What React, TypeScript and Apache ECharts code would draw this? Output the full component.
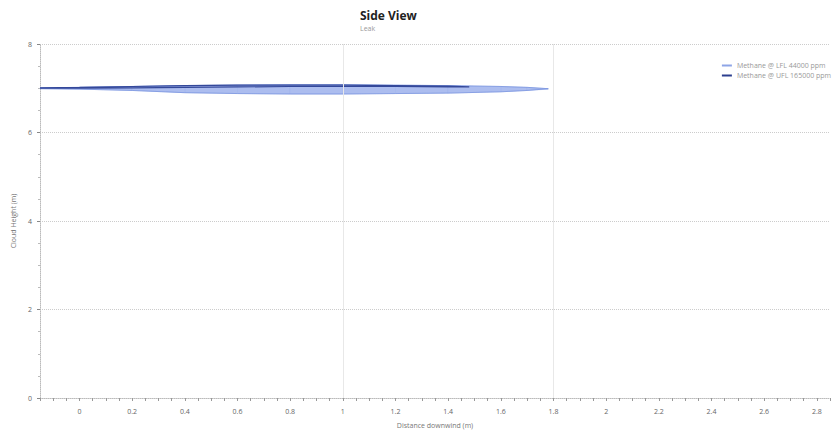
import React, { useEffect, useRef } from "react";
import * as echarts from "echarts";

// Light cloud (lower concentration) outline: x, top edge, bottom edge
const cloudX = [-0.15, 0.0, 0.2, 0.4, 0.6, 0.8, 1.0, 1.2, 1.4, 1.6, 1.7, 1.78];
const cloudTop = [7.01, 7.02, 7.04, 7.06, 7.07, 7.08, 7.08, 7.07, 7.06, 7.04, 7.02, 6.99];
const cloudBottom = [6.99, 6.98, 6.95, 6.9, 6.88, 6.87, 6.87, 6.88, 6.89, 6.92, 6.95, 6.98];

// Dense cloud (higher concentration) outline
const coreX = [-0.15, 0.0, 0.2, 0.4, 0.6, 0.8, 1.0, 1.2, 1.4, 1.48];
const coreTop = [7.01, 7.02, 7.04, 7.06, 7.07, 7.07, 7.07, 7.06, 7.05, 7.03];
const coreBottom = [7.0, 7.0, 7.01, 7.02, 7.03, 7.04, 7.04, 7.04, 7.03, 7.03];

const seriesNames = ["Methane @ LFL 44000 ppm", "Methane @ UFL 165000 ppm"];
const xGridValues = [1.0, 1.8];

export default function App() {
  const ref = useRef<HTMLDivElement>(null);
  useEffect(() => {
    document.body.style.margin = "0";
    if (!ref.current) return;
    const chart = echarts.init(ref.current, null, { renderer: "svg" });
    const font = "'Open Sans', 'Liberation Sans', sans-serif";

    // segments of the light band: [x0, top0, bottom0, x1, top1, bottom1]
    const bandSegs = cloudX.slice(0, -1).map((x, i) => [
      x, cloudTop[i], cloudBottom[i], cloudX[i + 1], cloudTop[i + 1], cloudBottom[i + 1],
    ]);
    const coreLine = [
      ...coreX.map((x, i) => [x, coreTop[i]]),
      ...coreX.slice().reverse().map((x, i) => [x, coreBottom[coreX.length - 1 - i]]),
    ];
    const lightEdge = [
      ...cloudX.map((x, i) => [x, cloudTop[i]]),
      ...cloudX.slice().reverse().map((x, i) => [x, cloudBottom[cloudX.length - 1 - i]]),
    ];
    chart.setOption({
      animation: false,
      backgroundColor: "#ffffff",
      title: {
        text: "Side View",
        subtext: "Leak",
        left: 355,
        top: 4,
        itemGap: 4,
        textStyle: { fontFamily: font, fontSize: 12, fontWeight: "bold", color: "#222" },
        subtextStyle: { fontFamily: font, fontSize: 7, color: "#999" },
      },
      legend: {
        orient: "vertical",
        right: 4,
        top: 57,
        itemWidth: 10,
        itemHeight: 2,
        itemGap: 3,
        data: [
          { name: seriesNames[0], icon: "rect" },
          { name: seriesNames[1], icon: "rect" },
        ],
        textStyle: { fontFamily: font, fontSize: 7, color: "#999" },
      },
      grid: { left: 40, right: 10, top: 44, bottom: 37, containLabel: false },
      xAxis: {
        type: "value",
        min: -0.15,
        max: 2.85,
        interval: 0.05,
        name: "Distance downwind (m)",
        nameLocation: "middle",
        nameGap: 24,
        nameTextStyle: { fontFamily: font, fontSize: 7, color: "#777" },
        axisLine: { show: true, onZero: false, lineStyle: { color: "#bbb", type: "dotted" } },
        axisTick: { show: true, length: 3, lineStyle: { color: "#999" } },
        axisLabel: {
          fontFamily: font,
          fontSize: 7,
          color: "#666",
          margin: 10,
          formatter: (v: number) => {
            const r = Math.round(v * 100);
            return r % 20 === 0 ? String(+v.toFixed(1)) : "";
          },
        },
        splitLine: { show: false },
      },
      yAxis: {
        type: "value",
        min: 0,
        max: 8,
        interval: 2,
        name: "Cloud Height (m)",
        nameLocation: "middle",
        nameGap: 20,
        nameTextStyle: { fontFamily: font, fontSize: 7, color: "#777" },
        axisLine: { show: true, onZero: false, lineStyle: { color: "#bbb", type: "dotted" } },
        axisTick: { show: true, length: 3, lineStyle: { color: "#888" } },
        minorTick: { show: true, splitNumber: 4, length: 2, lineStyle: { color: "#bbb" } },
        axisLabel: { fontFamily: font, fontSize: 7, color: "#666", margin: 8 },
        splitLine: { show: true, lineStyle: { color: "#ccc", type: "dotted" } },
      },
      series: [
        {
          name: seriesNames[0],
          type: "custom",
          color: "#8ea5e6",
          data: bandSegs,
          encode: { x: [0, 3], y: [1, 2, 4, 5] },
          renderItem: (params: any, api: any) => {
            const p0t = api.coord([api.value(0), api.value(1)]);
            const p0b = api.coord([api.value(0), api.value(2)]);
            const p1t = api.coord([api.value(3), api.value(4)]);
            const p1b = api.coord([api.value(3), api.value(5)]);
            return {
              type: "polygon",
              shape: { points: [p0t, p1t, p1b, p0b] },
              style: { fill: "#9db2ec", opacity: 0.85, stroke: "#9db2ec", lineWidth: 0.5 },
            };
          },
          markLine: {
            silent: true,
            symbol: "none",
            label: { show: false },
            lineStyle: { color: "#e8e8e8", type: "solid", width: 1 },
            data: xGridValues.map((x) => ({ xAxis: x })),
          },
        },
        {
          name: seriesNames[0] + " edge",
          type: "line",
          data: lightEdge,
          showSymbol: false,
          color: "#7b95e0",
          lineStyle: { width: 0.8, color: "#7b95e0" },
        },
        {
          name: seriesNames[1],
          type: "line",
          data: coreLine,
          showSymbol: false,
          color: "#2c3f8f",
          lineStyle: { width: 1.2, color: "#34489a", type: "solid" },
        },
      ],
    });
    return () => chart.dispose();
  }, []);
  return <div ref={ref} style={{ width: 840, height: 435 }} />;
}
